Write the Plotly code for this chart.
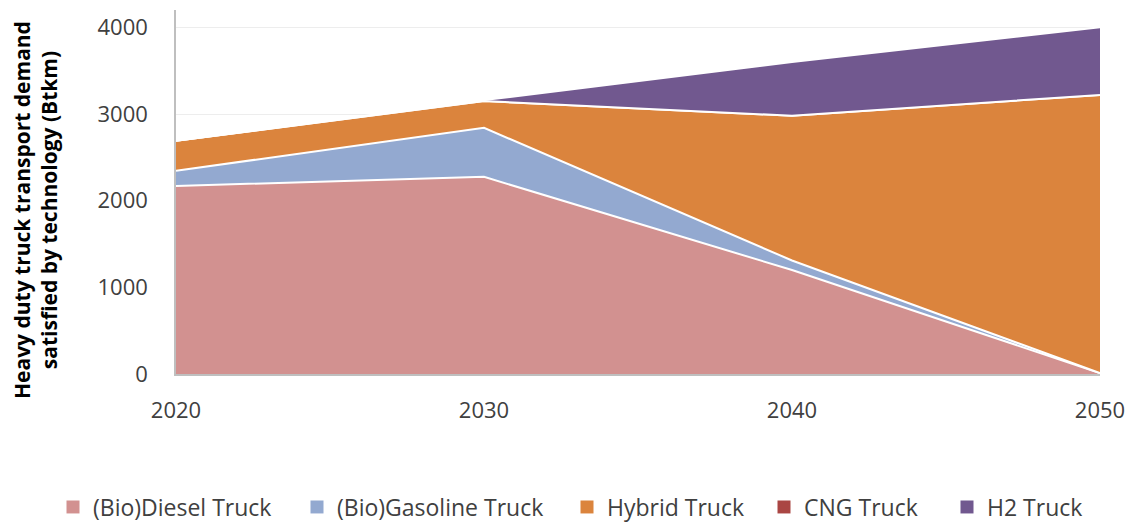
import plotly.graph_objects as go

years = [2020, 2030, 2040, 2050]
diesel = [2170, 2275, 1200, 10]
gasoline = [175, 565, 110, 0]
hybrid = [345, 310, 1670, 3210]
cng = [0, 0, 0, 0]
h2 = [0, 10, 620, 780]

series = [
    ("(Bio)Diesel Truck", diesel, "#D29190"),
    ("(Bio)Gasoline Truck", gasoline, "#93A9D0"),
    ("Hybrid Truck", hybrid, "#DB843D"),
    ("CNG Truck", cng, "#AA4643"),
    ("H2 Truck", h2, "#71588F"),
]

# horizontal pixel where each legend entry's text begins
legend_text_px = [91, 335, 605, 802, 985]

W, H = 1137, 522
font_family = "Open Sans, Lato, sans-serif"
text_color = "#404040"

fig = go.Figure()
for name, vals, color in series:
    fig.add_trace(go.Scatter(
        x=years, y=vals, name=name, mode="lines",
        stackgroup="one", fillcolor=color,
        line=dict(color="white", width=2),
        showlegend=False,
    ))

# square swatches for the legend, one legend box per entry
legend_layouts = {}
for i, ((name, _, color), tx) in enumerate(zip(series, legend_text_px)):
    key = "legend" if i == 0 else f"legend{i + 1}"
    fig.add_trace(go.Scatter(
        x=[None], y=[None], name=name, mode="markers",
        marker=dict(symbol="square", size=13, color=color),
        legend=key, showlegend=True,
    ))
    legend_layouts[key] = dict(
        xref="container", yref="container",
        x=(tx - 38) / W, xanchor="left",
        y=(H - 507) / H, yanchor="middle",
        font=dict(size=23, color=text_color, family=font_family),
        bgcolor="rgba(0,0,0,0)", borderwidth=0,
    )

fig.update_layout(
    width=W, height=H,
    margin=dict(l=176, r=37, t=10, b=148, autoexpand=False),
    plot_bgcolor="white", paper_bgcolor="white",
    font=dict(family=font_family, size=20, color=text_color),
    showlegend=True,
    xaxis=dict(
        range=[2020, 2050], tickvals=years, ticktext=[str(y) for y in years],
        showline=True, linecolor="#BFBFBF", linewidth=1.5,
        showgrid=False, zeroline=False, ticks="", ticklabelstandoff=16,
        tickfont=dict(size=22, color=text_color),
    ),
    yaxis=dict(
        range=[0, 4200], tickvals=[0, 1000, 2000, 3000, 4000],
        showline=True, linecolor="#BFBFBF", linewidth=1.5,
        showgrid=True, gridcolor="#EDEDED", zeroline=False, ticks="",
        ticklabelstandoff=22,
        tickfont=dict(size=22, color=text_color),
    ),
    annotations=[dict(
        text="Heavy duty truck transport demand<br>satisfied by technology (Btkm)",
        xref="paper", yref="paper",
        x=(35 - 176) / 924, y=(374 - 210) / 364,
        xanchor="center", yanchor="middle",
        textangle=-90, showarrow=False,
        font=dict(size=21, color="black", family=font_family, weight="bold"),
    )],
    **legend_layouts,
)

fig.write_html("out.html")
